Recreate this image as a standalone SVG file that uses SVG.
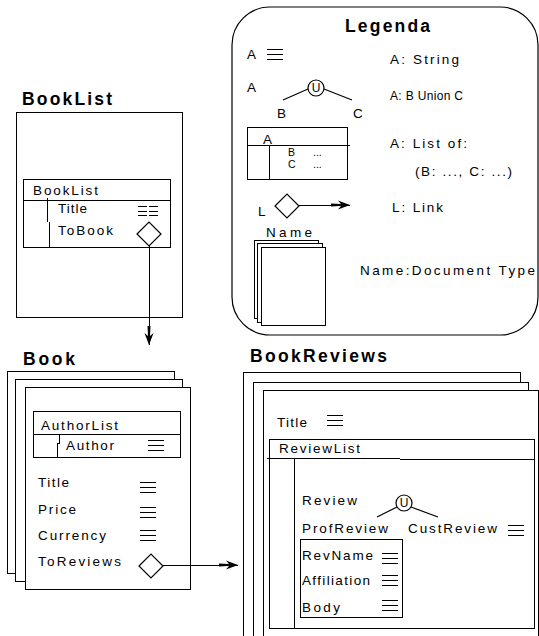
<svg xmlns="http://www.w3.org/2000/svg" width="539" height="636" viewBox="0 0 539 636">
<style>
text{font-family:"Liberation Sans",Arial,sans-serif;font-size:13.5px;fill:#000}
.h{font-weight:bold;font-size:17.5px}
.s{font-size:12px}
.xs{font-size:10.5px}
.ln{fill:none;stroke:#000;stroke-width:1;shape-rendering:crispEdges}
.ld{fill:none;stroke:#000;stroke-width:1.2}
.box{fill:#fff;stroke:#000;stroke-width:1;shape-rendering:crispEdges}
</style>
<defs>
<g id="str"><path d="M0,0H16M0,5H16M0,10H16" fill="none" stroke="#000" stroke-width="1" shape-rendering="crispEdges"/></g>
<path id="dia" d="M-12,0L0,-12L12,0L0,12Z" fill="#fff" stroke="#000" stroke-width="1.2"/>
<marker id="arr" markerUnits="userSpaceOnUse" markerWidth="24" markerHeight="14" viewBox="-22 -7 24 14" refX="0" refY="0" orient="auto">
<path d="M0,0L-12,-4.5L-9,-1L-19,-1.5L-19,1.5L-9,1L-12,4.5Z" fill="#000"/>
</marker>
</defs>
<rect width="539" height="636" fill="#fff"/>

<g id="legend">
<rect x="232" y="7" width="306" height="328" rx="38" class="ld"/>
<text x="345" y="32" class="h" textLength="85">Legenda</text>
<text x="247" y="59">A</text>
<use href="#str" x="267" y="49"/>
<text x="390" y="64" textLength="69">A: String</text>
<text x="247" y="92">A</text>
<circle cx="316" cy="88" r="8" class="ld"/>
<text x="316" y="92" class="s" text-anchor="middle">U</text>
<path d="M283,100L308,89M324,89L352,100" class="ld"/>
<text x="277" y="118">B</text>
<text x="353" y="118">C</text>
<text x="390" y="100" class="s" textLength="73">A: B Union C</text>
<rect x="247" y="127" width="100" height="52" class="ln"/>
<path d="M247,145H350M269,145V179" class="ln"/>
<text x="263" y="144">A</text>
<text x="288" y="156" class="xs">B</text>
<text x="313" y="156" class="xs">...</text>
<text x="288" y="168" class="xs">C</text>
<text x="313" y="168" class="xs">...</text>
<text x="390" y="148" textLength="77">A: List of:</text>
<text x="415" y="176" textLength="97">(B: ..., C: ...)</text>
<text x="258" y="216">L</text>
<use href="#dia" x="287" y="206"/>
<path d="M299,205H350" class="ln" marker-end="url(#arr)"/>
<text x="392" y="212" textLength="51">L: Link</text>
<text x="266" y="237" textLength="46">Name</text>
<rect x="254" y="240" width="64" height="78" class="box"/>
<rect x="257" y="243" width="65" height="79" class="box"/>
<rect x="261" y="247" width="64" height="78" class="box"/>
<text x="360" y="275" textLength="175">Name:Document Type</text>
</g>

<g id="booklist">
<text x="22" y="105" class="h" textLength="90">BookList</text>
<rect x="16" y="112" width="166" height="205" class="box"/>
<rect x="23" y="179" width="147" height="68" class="ln"/>
<path d="M23,200H170M47,198V222M49,222V247" class="ln"/>
<text x="33" y="195" textLength="65">BookList</text>
<text x="58" y="213" textLength="29">Title</text>
<path d="M138,206h9M149,206h9M138,211h9M149,211h9M138,215h9M149,215h9" class="ln"/>
<text x="58" y="235" textLength="55">ToBook</text>
<use href="#dia" x="149" y="234"/>
</g>

<g id="book">
<text x="23" y="365" class="h" textLength="52">Book</text>
<rect x="7" y="371" width="167" height="202" class="box"/>
<rect x="15" y="379" width="167" height="202" class="box"/>
<rect x="25" y="387" width="165" height="202" class="box"/>
<rect x="33" y="411" width="147" height="46" class="ln"/>
<path d="M33,434H180M59,434V443H57V457" class="ln"/>
<text x="41" y="430" textLength="77">AuthorList</text>
<text x="66" y="450" textLength="48">Author</text>
<use href="#str" x="148" y="440"/>
<text x="38" y="487" textLength="31">Title</text>
<use href="#str" x="140" y="482"/>
<text x="38" y="514" textLength="38">Price</text>
<use href="#str" x="140" y="507"/>
<text x="38" y="540" textLength="68">Currency</text>
<use href="#str" x="140" y="530"/>
<text x="38" y="566" textLength="83">ToReviews</text>
<use href="#dia" x="151" y="566"/>
</g>

<g id="bookreviews">
<text x="250" y="362" class="h" textLength="137">BookReviews</text>
<rect x="243" y="372" width="277" height="300" class="box"/>
<rect x="253" y="382" width="275" height="300" class="box"/>
<rect x="263" y="390" width="275" height="300" class="box"/>
<text x="277" y="427" textLength="30">Title</text>
<use href="#str" x="327" y="415"/>
<rect x="269" y="439" width="265" height="189" class="ln"/>
<path d="M267,458H400M400,459H534M294,459V628" class="ln"/>
<text x="279" y="453" textLength="81">ReviewList</text>
<text x="302" y="505" textLength="55">Review</text>
<circle cx="404" cy="503" r="8" class="ld"/>
<text x="404" y="507" class="s" text-anchor="middle">U</text>
<path d="M377,517L397,507M411,507L438,517" class="ld"/>
<text x="302" y="533" textLength="86">ProfReview</text>
<text x="408" y="533" textLength="89">CustReview</text>
<use href="#str" x="508" y="525"/>
<rect x="300" y="539" width="102" height="78" class="ln"/>
<text x="302" y="560" textLength="71">RevName</text>
<use href="#str" x="382" y="553"/>
<text x="302" y="585" textLength="68">Affiliation</text>
<use href="#str" x="382" y="575"/>
<text x="302" y="612" textLength="38">Body</text>
<use href="#str" x="382" y="600"/>
</g>

<g id="connectors">
<path d="M149,246V345" class="ln" marker-end="url(#arr)"/>
<path d="M163,565H238" class="ln" marker-end="url(#arr)"/>
</g>
</svg>
